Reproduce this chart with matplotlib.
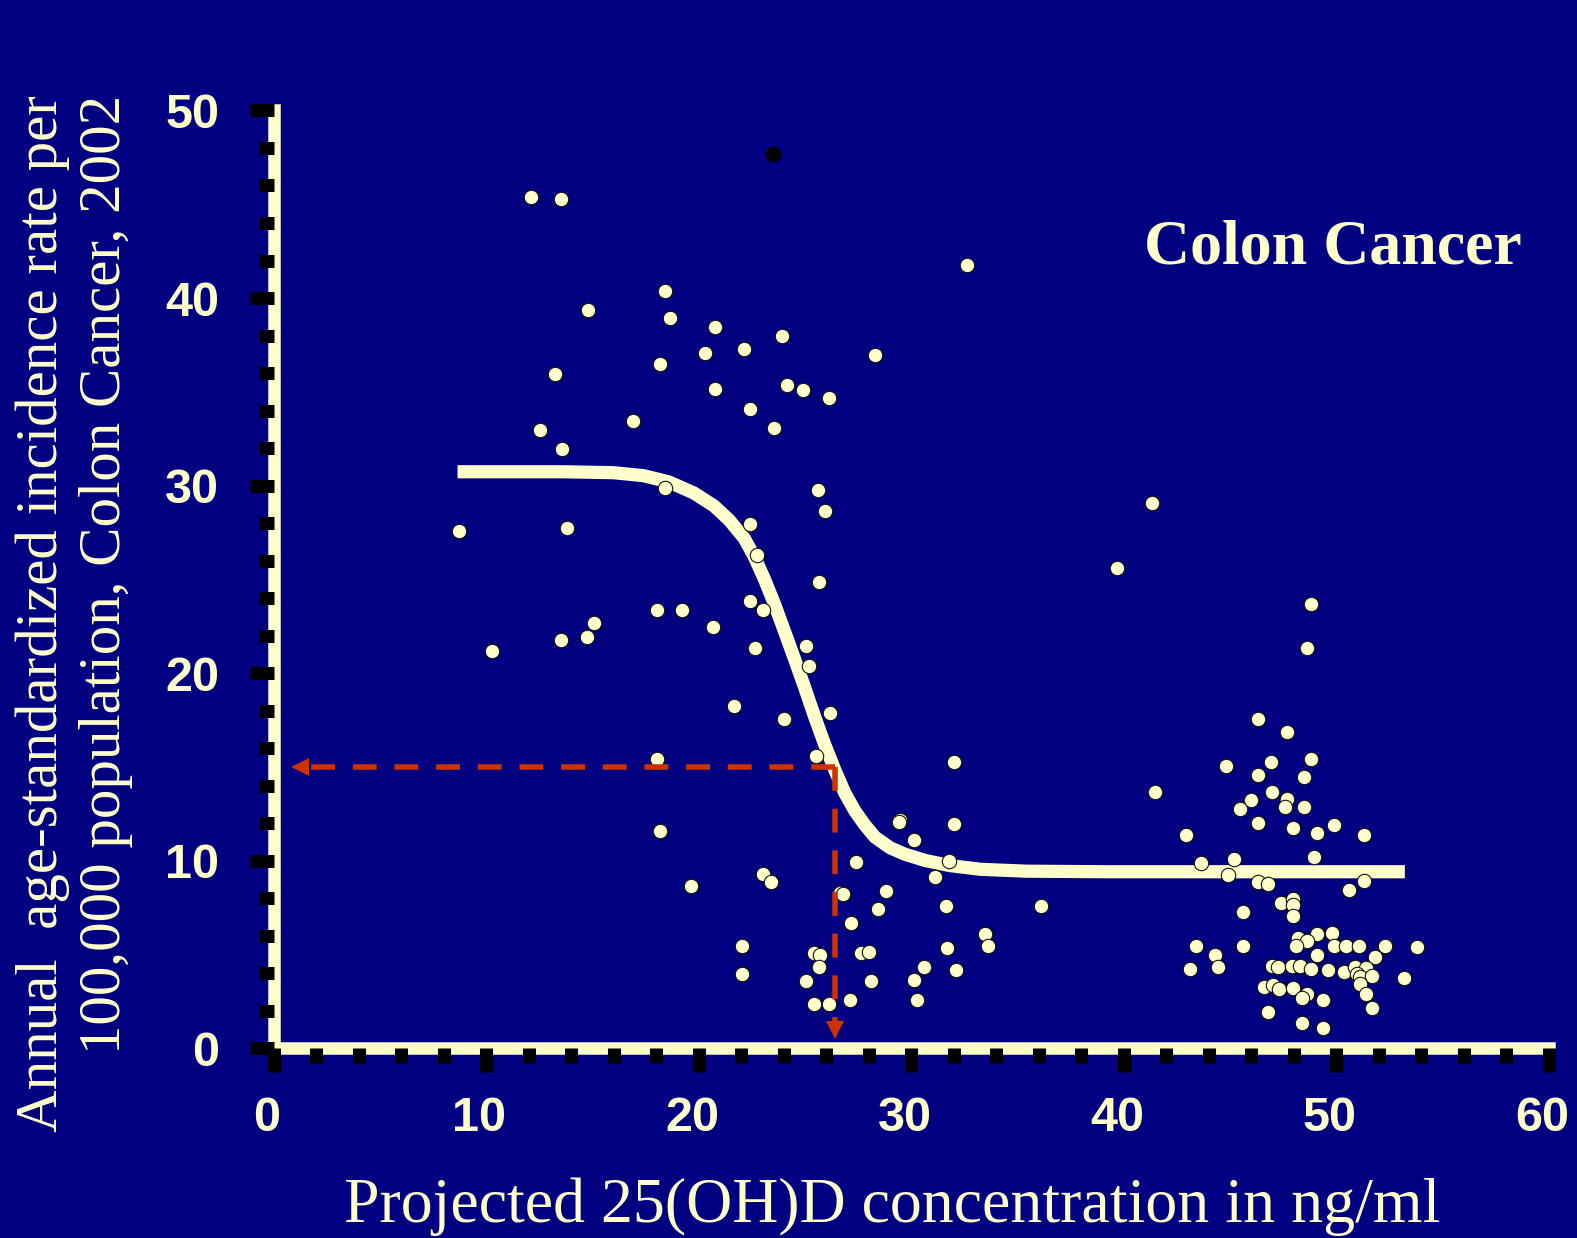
import matplotlib
matplotlib.use("Agg")
from matplotlib import pyplot as plt
from matplotlib.ticker import MultipleLocator
from matplotlib.transforms import ScaledTranslation

# country points: projected 25(OH)D (ng/ml) vs colon cancer incidence
vit_d = [12.08, 13.52, 18.41, 14.78, 18.62, 20.77, 23.91, 22.10, 20.28, 18.16,
         13.22, 20.77, 24.16, 24.91, 26.10, 22.40, 16.91, 23.51, 12.50, 13.57,
         18.40, 25.61, 25.91, 8.71, 13.77, 22.40, 22.71,
         25.66, 22.41, 23.00, 18.01, 19.18, 15.07, 14.71, 13.52, 10.27, 20.67,
         22.66, 25.02, 25.19, 21.66, 24.00, 26.16, 25.51, 18.01, 18.15, 19.61,
         23.00, 23.40, 26.64, 22.01, 22.01, 25.41, 25.69, 25.66, 25.02, 25.41,
         26.10,
         31.99, 41.44, 29.46, 29.40, 31.99, 42.90, 30.12, 27.40, 31.78, 31.11,
         26.76, 28.79, 28.41, 31.61, 36.11, 27.17, 33.46, 33.60, 43.39, 43.11,
         27.61, 28.02, 31.67, 30.60, 32.09, 28.09, 30.12, 27.11, 30.27,
         32.60, 28.28, 41.30, 39.67,
         48.80, 48.61, 46.29, 47.66, 48.80, 46.90, 44.80, 46.29, 48.46, 46.98,
         46.00, 47.66, 47.59, 48.46, 45.47,
         46.29, 47.97, 49.90, 49.10, 51.29, 45.18, 48.96, 43.65, 44.91, 46.32,
         46.79, 51.29, 50.59, 47.39, 47.97, 47.97, 47.97, 45.60, 49.10, 49.79,
         48.17, 48.60, 45.60, 48.09, 49.90, 50.45, 51.07, 52.27, 53.79, 44.30,
         49.10, 51.81, 44.41, 46.95, 47.26, 47.89, 48.28, 48.80, 49.61, 50.37,
         50.87, 51.39, 50.95, 51.11, 51.66, 53.18, 46.60, 47.02, 47.30, 47.97,
         48.60, 48.39, 49.38, 51.11, 51.40, 51.66, 46.79, 48.39, 49.38]
incidence = [45.37, 45.27, 40.39, 39.38, 38.96, 38.48, 37.98, 37.27, 37.09, 36.47,
             35.97, 35.17, 35.38, 35.08, 34.67, 34.09, 33.45, 33.09, 32.97, 31.97,
             29.86, 29.77, 28.67, 27.60, 27.76, 27.96, 26.31,
             24.87, 23.87, 23.37, 23.37, 23.37, 22.66, 21.95, 21.76, 21.17, 22.47,
             21.37, 21.47, 20.39, 18.27, 17.58, 17.90, 15.59, 15.42, 11.59, 8.66,
             9.29, 8.88, 8.29, 5.46, 3.95, 5.07, 4.97, 4.36, 3.58, 2.39,
             2.39,
             15.26, 13.69, 12.18, 12.09, 11.95, 11.38, 11.10, 9.96, 10.01, 9.16,
             8.25, 8.38, 7.45, 7.60, 7.60, 6.67, 6.10, 5.48, 5.48, 4.25,
             5.11, 5.16, 5.37, 4.36, 4.18, 3.60, 3.67, 2.59, 2.59,
             41.76, 36.97, 29.09, 25.60,
             23.68, 21.37, 17.58, 16.87, 15.45, 15.26, 15.08, 14.58, 14.47, 13.67,
             13.25, 13.30, 12.87, 12.87, 12.77,
             12.04, 11.77, 11.93, 11.47, 11.40, 10.10, 10.19, 9.87, 9.25, 8.89,
             8.75, 8.93, 8.45, 7.74, 7.97, 7.65, 7.06, 7.26, 6.09, 6.17,
             5.87, 5.75, 5.48, 5.48, 5.46, 5.46, 5.46, 5.46, 5.39, 4.98,
             4.98, 4.89, 4.36, 4.40, 4.36, 4.40, 4.40, 4.24, 4.18, 4.09,
             4.36, 4.27, 3.96, 3.83, 3.88, 3.78, 3.29, 3.38, 3.16, 3.24,
             2.91, 2.67, 2.59, 3.44, 2.91, 2.18, 1.96, 1.38, 1.08]

# the one point drawn in black
dark_x = [23.50]
dark_y = [47.68]

# fitted curve
fit_x = [8.64, 13.61, 15.98, 17.40, 18.58, 19.76, 20.71, 21.42, 22.13, 22.60,
         23.07, 23.55, 24.02, 24.50, 24.97, 25.44, 25.92, 26.39, 26.86, 27.34,
         27.81, 28.28, 28.99, 29.70, 30.65, 31.80, 33.25, 35.40, 39.20, 53.22]
fit_y = [30.74, 30.74, 30.69, 30.53, 30.20, 29.61, 28.92, 28.17, 27.20, 26.23,
         25.05, 23.71, 22.26, 20.76, 19.26, 17.70, 16.20, 14.86, 13.63, 12.66,
         11.91, 11.27, 10.70, 10.35, 10.02, 9.75, 9.55, 9.45, 9.42, 9.42]

# guide: 15 per 100,000 -> about 26.4 ng/ml
guide_x = [0.8, 26.4]
guide_y = [15.0, 0.5]

navy = "#000080"
cream = "#FFFFCC"
red = "#CC3300"

fig = plt.figure(figsize=(15.77, 12.38), dpi=100, facecolor=navy)
ax = fig.add_axes([0.1737, 0.1531, 0.8085, 0.7577], facecolor=navy)

ax.plot(fit_x, fit_y, color=cream, lw=9.5, solid_capstyle="butt",
        solid_joinstyle="round", zorder=3)

ax.scatter(vit_d, incidence, s=108, color=cream, edgecolor="#111111",
           linewidth=0.8, zorder=4)
ax.scatter(dark_x, dark_y, s=108, color="black", zorder=4)

# dashed guides with arrow heads
ax.plot([guide_x[1], guide_x[0] + 0.4], [guide_y[0], guide_y[0]], color=red,
        lw=4, dashes=(4.3, 3.2), zorder=5)
ax.plot([guide_x[1], guide_x[1]], [guide_y[0], guide_y[1] + 0.5], color=red,
        lw=4, dashes=(4.3, 3.2), zorder=5)
ax.plot([guide_x[0] + 0.42], [guide_y[0]], marker="<", ms=13, color=red,
        mew=0, zorder=5, clip_on=False)
ax.plot([guide_x[1]], [guide_y[1] + 0.47], marker="v", ms=13, color=red,
        mew=0, zorder=5, clip_on=False)

ax.set_xlim(0, 60)
ax.set_ylim(0, 50)
ax.xaxis.set_major_locator(MultipleLocator(10))
ax.xaxis.set_minor_locator(MultipleLocator(2))
ax.yaxis.set_major_locator(MultipleLocator(10))
ax.yaxis.set_minor_locator(MultipleLocator(2))

for side in ["top", "right"]:
    ax.spines[side].set_visible(False)
for side in ["left", "bottom"]:
    ax.spines[side].set_color(cream)
    ax.spines[side].set_linewidth(9)
    ax.spines[side].set_zorder(2.5)
ax.xaxis.set_zorder(3.5)
ax.yaxis.set_zorder(3.5)

ax.tick_params(which="major", direction="out", length=17.3, width=9.4,
               color="black", labelcolor=cream, labelsize=35)
ax.tick_params(which="minor", direction="out", length=11, width=9.4,
               color="black")
ax.tick_params(axis="y", which="major", pad=22)
ax.tick_params(axis="x", which="major", pad=17)
shift = ScaledTranslation(-7 / 100, 0, fig.dpi_scale_trans)
for lab in ax.get_xticklabels():
    lab.set_transform(lab.get_transform() + shift)
for lab in ax.get_xticklabels() + ax.get_yticklabels():
    lab.set_fontfamily("Liberation Sans")
    lab.set_fontweight("bold")

fig.text(0.566, 0.0129, "Projected 25(OH)D concentration in ng/ml",
         family="Liberation Serif", fontsize=46, color=cream,
         ha="center", va="baseline")
fig.text(0.0472, 0.923,
         "Annual  age-standardized incidence rate per\n100,000 population, Colon Cancer, 2002",
         family="Liberation Serif", fontsize=42.5, color=cream, rotation=90,
         ha="center", va="top", multialignment="right", linespacing=1.22)
fig.text(0.7254, 0.7868, "Colon Cancer", family="Liberation Serif",
         fontweight="bold", fontsize=46, color=cream, ha="left", va="baseline")

fig.savefig("out.png", dpi=100, facecolor=navy)
